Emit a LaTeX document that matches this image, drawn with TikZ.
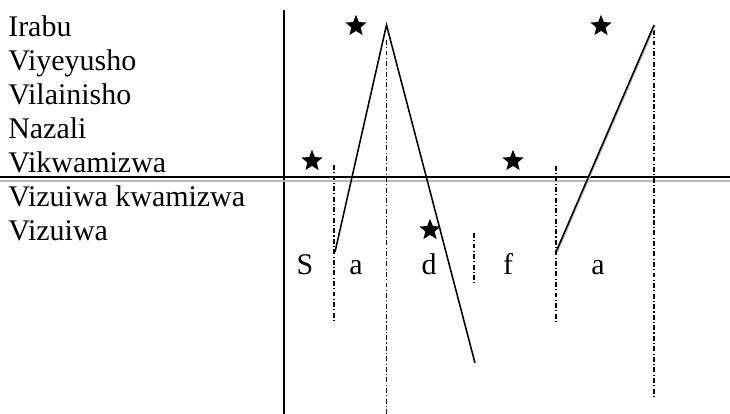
\documentclass[tikz,border=0pt]{standalone}
\usepackage{fontspec}
\setmainfont{Liberation Serif}
\usetikzlibrary{shapes.geometric}
\tikzstyle{tier} = [anchor=base west, inner sep=0pt, font=\fontsize{21.3}{25}\selectfont]
\tikzstyle{seg} = [anchor=base, inner sep=0pt, font=\fontsize{21.3}{25}\selectfont]
\tikzstyle{accent} = [star, star points=5, star point ratio=2.3, fill=black, inner sep=0pt, minimum size=0.56cm]
\tikzstyle{axis} = [line width=1.4pt]
\tikzstyle{slot} = [dash pattern=on 3.5pt off 1.6pt on 0.8pt off 1.6pt, line width=0.8pt]
\tikzstyle{contour} = [line width=1.1pt]

\begin{document}
\begin{tikzpicture}[x=0.025cm, y=-0.025cm]
      \useasboundingbox (0,0) rectangle (730,414);
      % tier labels
      \node (irabu)[tier] at (8,36) {Irabu};
      \node (viyeyusho)[tier] at (8,70) {Viyeyusho};
      \node (vilainisho)[tier] at (8,104) {Vilainisho};
      \node (nazali)[tier] at (8,138) {Nazali};
      \node (vikwamizwa)[tier] at (8,172) {Vikwamizwa};
      \node (vizkwam)[tier] at (8,206) {Vizuiwa kwamizwa};
      \node (vizuiwa)[tier] at (8,240) {Vizuiwa};
      % axes
      \coordinate (axtop) at (284,10);
      \coordinate (axbot) at (284,414);
      \draw [axis](axtop)--(axbot);
      \coordinate (hwest) at (0,177);
      \coordinate (heast) at (730,177);
      \draw [line width=1pt](hwest)--(heast);
      \coordinate (gwest) at (0,181);
      \coordinate (geast) at (730,181);
      \draw [gray!55, line width=1.4pt](gwest)--(geast);
      % slot boundaries
      \coordinate (b1t) at (334,165); \coordinate (b1b) at (334,323);
      \coordinate (b2t) at (386.5,40); \coordinate (b2b) at (386.5,414);
      \coordinate (b3t) at (474,233); \coordinate (b3b) at (474,283);
      \coordinate (b4t) at (556,166); \coordinate (b4b) at (556,323);
      \coordinate (b5t) at (654,30); \coordinate (b5b) at (654,396);
      \draw [slot](b1t)--(b1b);
      \draw [slot](b2t)--(b2b);
      \draw [slot](b3t)--(b3b);
      \draw [slot](b4t)--(b4b);
      \draw [slot](b5t)--(b5b);
      % sonority contour
      \coordinate (rise1) at (335,252);
      \coordinate (peak1) at (386.5,25);
      \coordinate (fall1) at (475,363);
      \draw [contour](rise1)--(peak1)--(fall1);
      \coordinate (rise2) at (556,252);
      \coordinate (peak2) at (654,25);
      \draw [gray!55, contour]([xshift=0.03cm]rise2)--([xshift=0.03cm]peak2);
      \draw [contour](rise2)--(peak2);
      % stars
      \node (st1)[accent] at (356,26) {};
      \node (st2)[accent] at (312,161) {};
      \node (st3)[accent] at (513,161) {};
      \node (st4)[accent] at (430,230) {};
      \node (st5)[accent] at (601,26) {};
      % segments
      \node (sS)[seg] at (305,274) {S};
      \node (sa1)[seg] at (356,274) {a};
      \node (sd)[seg] at (429,274) {d};
      \node (sf)[seg] at (508,274) {f};
      \node (sa2)[seg] at (598,274) {a};
    \end{tikzpicture}
\end{document}
